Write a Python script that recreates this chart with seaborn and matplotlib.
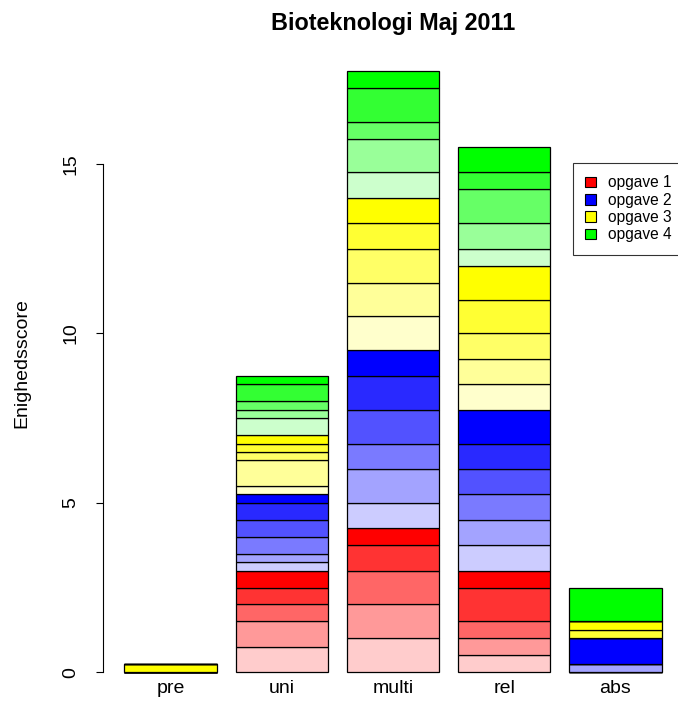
import numpy as np
import seaborn as sns
import matplotlib.pyplot as plt
from matplotlib.patches import Patch

sns.set_style("white")
plt.rcParams['font.family'] = ['Liberation Sans', 'DejaVu Sans']
plt.rcParams['text.color'] = 'black'
plt.rcParams['axes.labelcolor'] = 'black'
plt.rcParams['xtick.color'] = 'black'
plt.rcParams['ytick.color'] = 'black'

categories = ['pre', 'uni', 'multi', 'rel', 'abs']

# score per subquestion, light -> dark shade, one row per shade
opgave1 = [
    [0, 0.75, 1.0, 0.5, 0],
    [0, 0.75, 1.0, 0.5, 0],
    [0, 0.5, 1.0, 0.5, 0],
    [0, 0.5, 0.75, 1.0, 0],
    [0, 0.5, 0.5, 0.5, 0],
]
opgave2 = [
    [0, 0.25, 0.75, 0.75, 0],
    [0, 0.25, 1.0, 0.75, 0.25],
    [0, 0.5, 0.75, 0.75, 0],
    [0, 0.5, 1.0, 0.75, 0],
    [0, 0.5, 1.0, 0.75, 0],
    [0, 0.25, 0.75, 1.0, 0.75],
]
opgave3 = [
    [0, 0.25, 1.0, 0.75, 0],
    [0, 0.75, 1.0, 0.75, 0],
    [0, 0.25, 1.0, 0.75, 0],
    [0, 0.25, 0.75, 1.0, 0.25],
    [0.25, 0.25, 0.75, 1.0, 0.25],
]
opgave4 = [
    [0, 0.5, 0.75, 0.5, 0],
    [0, 0.25, 1.0, 0.75, 0],
    [0, 0.25, 0.5, 1.0, 0],
    [0, 0.5, 1.0, 0.5, 0],
    [0, 0.25, 0.5, 0.75, 1.0],
]

reds = ['#FFCCCC', '#FF9999', '#FF6666', '#FF3333', '#FF0000']
blues = ['#CCCCFF', '#A3A3FF', '#7A7AFF', '#5252FF', '#2929FF', '#0000FF']
yellows = ['#FFFFCC', '#FFFF99', '#FFFF66', '#FFFF33', '#FFFF00']
greens = ['#CCFFCC', '#99FF99', '#66FF66', '#33FF33', '#00FF00']

legend_labels = ['opgave 1', 'opgave 2', 'opgave 3', 'opgave 4']
legend_colors = ['#FF0000', '#0000FF', '#FFFF00', '#00FF00']

fig = plt.figure(figsize=(6.78, 7.23), dpi=100)
ax = fig.add_axes([103 / 678, (723 - 679) / 723, 580 / 678, (679 - 46.4) / 723])

bottom = np.zeros(len(categories))
for values, shades in [(opgave1, reds), (opgave2, blues), (opgave3, yellows), (opgave4, greens)]:
    for h, c in zip(values, shades):
        h = np.array(h, dtype=float)
        sns.barplot(x=categories, y=h, bottom=bottom, color=c, saturation=1,
                    errorbar=None, width=1 / 1.2, edgecolor='black',
                    linewidth=0.9, ax=ax)
        bottom = bottom + h

ax.set_xlim(-0.61, 4.61)
ax.set_ylim(-0.2, 18.47)
ax.set_yticks([0, 5, 10, 15])
ax.set_yticklabels(['0', '5', '10', '15'], rotation=90, va='center')
sns.despine(ax=ax, bottom=True, right=True, top=True)
ax.spines['left'].set_bounds(0, 15)
ax.spines['left'].set_color('black')
ax.spines['left'].set_linewidth(0.8)
ax.tick_params(axis='y', length=5, width=0.8, pad=12, labelsize=14, left=True, color='black')
ax.tick_params(axis='x', length=0, pad=1, labelsize=14)
ax.set_xlabel('')
ax.set_ylabel('Enighedsscore', fontsize=14)
ax.yaxis.set_label_coords(-0.125, 0.5)
ax.set_title('Bioteknologi Maj 2011', fontsize=16.8, fontweight='bold', pad=12, color='black')

handles = [Patch(facecolor=c, edgecolor='black', linewidth=0.8) for c in legend_colors]
leg = fig.legend(handles, legend_labels, loc='upper left',
                 bbox_to_anchor=(573 / 678, 1 - 163 / 723), fontsize=11.2,
                 frameon=True, fancybox=False, edgecolor='black',
                 handlelength=0.67, handleheight=0.67, handletextpad=0.8,
                 labelspacing=0.15, borderpad=0.8, borderaxespad=0)
leg.get_frame().set_linewidth(0.8)

fig.savefig('out.png', dpi=100)
